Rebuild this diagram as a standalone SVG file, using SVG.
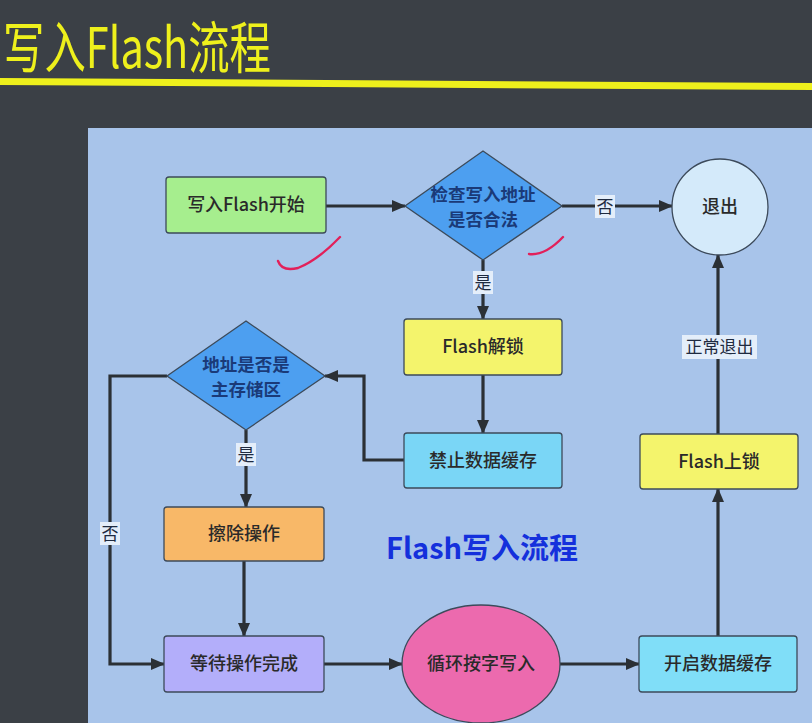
<svg xmlns="http://www.w3.org/2000/svg" width="812" height="723" viewBox="0 0 812 723">
<defs>
<marker id="arr" markerUnits="userSpaceOnUse" markerWidth="14" markerHeight="12" refX="13" refY="6" orient="auto">
<path d="M0,0 L14,6 L0,12 Z" fill="#2b3035"/>
</marker>
<style>
.cn{font-family:"Noto Sans CJK SC","Noto Sans",sans-serif;}
.node{stroke:#3c4a5a;stroke-width:1.3;}
.nt{font-size:18px;fill:#2a2a2a;text-anchor:middle;font-weight:500;}
.dt{font-size:17.5px;fill:#1a3a78;text-anchor:middle;font-weight:bold;}
.conn{fill:none;stroke:#2b3035;stroke-width:3.2;marker-end:url(#arr);}
.lbg{fill:#e4eefa;}
.lt{font-size:17px;fill:#1e2a40;text-anchor:middle;}
.pen{fill:none;stroke:#e2205a;stroke-width:2.4;stroke-linecap:round;}
</style>
</defs>
<rect x="0" y="0" width="812" height="723" fill="#3b4046"/>
<text x="3" y="68" class="cn" font-size="56" fill="#eef01c" textLength="268" lengthAdjust="spacingAndGlyphs">写入Flash流程</text>
<polygon points="0,78 812,83 812,90 0,85" fill="#eef01c"/>
<rect x="88" y="128" width="724" height="595" fill="#a8c4ea"/>

<g id="connectors">
<path class="conn" d="M326,206 H405"/>
<path class="conn" d="M562,206 H672"/>
<path class="conn" d="M483,260 V319"/>
<path class="conn" d="M483,375 V433"/>
<path class="conn" d="M404,460 H364 V376 H325"/>
<path class="conn" d="M167,376 H110 V664 H164"/>
<path class="conn" d="M246,430 V507"/>
<path class="conn" d="M244,561 V636"/>
<path class="conn" d="M324,664 H402"/>
<path class="conn" d="M560,664 H639"/>
<path class="conn" d="M718,636 V489"/>
<path class="conn" d="M718,434 V255"/>
<g class="cn">
<rect class="lbg" x="595" y="195" width="20" height="23"/>
<text class="lt" x="605" y="213">否</text>
<rect class="lbg" x="473" y="271" width="20" height="23"/>
<text class="lt" x="483" y="289">是</text>
<rect class="lbg" x="236" y="443" width="20" height="23"/>
<text class="lt" x="246" y="461">是</text>
<rect class="lbg" x="100" y="522" width="20" height="23"/>
<text class="lt" x="110" y="540">否</text>
<rect class="lbg" x="682" y="335" width="75" height="24"/>
<text class="lt" x="719.5" y="353">正常退出</text>
</g>
</g>

<g id="start" class="cn">
<rect class="node" x="166" y="177" width="160" height="56" rx="3" fill="#a6ee8e"/>
<text class="nt" x="246" y="211">写入Flash开始</text>
</g>
<g id="check-addr" class="cn">
<polygon class="node" points="483,151 562,206 483,260 405,206" fill="#4d9ff0" stroke="#1d4a90"/>
<text class="dt" x="483" y="201">检查写入地址</text>
<text class="dt" x="483" y="226">是否合法</text>
</g>
<g id="exit" class="cn">
<circle class="node" cx="720" cy="207" r="48" fill="#d4eafa"/>
<text class="nt" x="720" y="213">退出</text>
</g>
<g id="unlock" class="cn">
<rect class="node" x="404" y="319" width="158" height="56" rx="3" fill="#f4f46c"/>
<text class="nt" x="483" y="353">Flash解锁</text>
</g>
<g id="disable-cache" class="cn">
<rect class="node" x="404" y="433" width="158" height="55" rx="3" fill="#7ad6f6"/>
<text class="nt" x="483" y="467">禁止数据缓存</text>
</g>
<g id="main-mem" class="cn">
<polygon class="node" points="246,321 325,376 246,430 167,376" fill="#4d9ff0" stroke="#1d4a90"/>
<text class="dt" x="246" y="371">地址是否是</text>
<text class="dt" x="246" y="396">主存储区</text>
</g>
<g id="erase" class="cn">
<rect class="node" x="164" y="507" width="160" height="54" rx="3" fill="#f8b868"/>
<text class="nt" x="244" y="540">擦除操作</text>
</g>
<g id="wait" class="cn">
<rect class="node" x="164" y="636" width="160" height="56" rx="3" fill="#b3aefa"/>
<text class="nt" x="244" y="670">等待操作完成</text>
</g>
<g id="write-loop" class="cn">
<ellipse class="node" cx="481" cy="664" rx="79" ry="59" fill="#ec6aae"/>
<text class="nt" x="481" y="670">循环按字写入</text>
</g>
<g id="enable-cache" class="cn">
<rect class="node" x="639" y="636" width="158" height="56" rx="3" fill="#80def8"/>
<text class="nt" x="718" y="670">开启数据缓存</text>
</g>
<g id="lock" class="cn">
<rect class="node" x="640" y="434" width="158" height="55" rx="3" fill="#f4f46c"/>
<text class="nt" x="719" y="468">Flash上锁</text>
</g>

<text x="482" y="559" class="cn" font-size="29" font-weight="bold" fill="#1430dc" text-anchor="middle">Flash写入流程</text>

<path class="pen" d="M278,261 Q282,272 298,268 Q318,260 340,237"/>
<path class="pen" d="M529,254 Q545,256 563,237"/>
</svg>
